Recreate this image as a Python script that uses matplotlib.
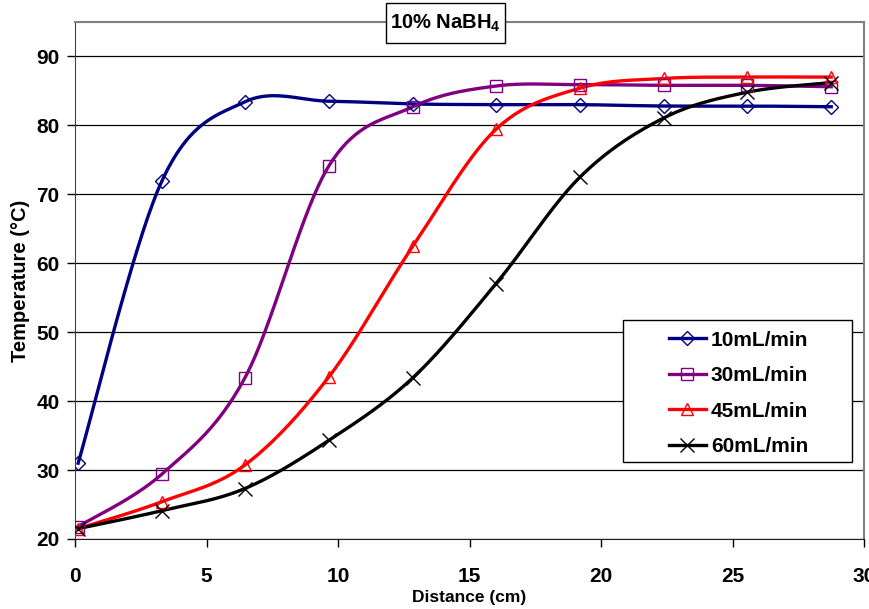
import matplotlib.pyplot as plt
import numpy as np
from matplotlib.patches import Rectangle

plt.switch_backend('Agg')
plt.rcParams['font.family'] = ['Liberation Sans', 'DejaVu Sans']
plt.rcParams['font.weight'] = 'bold'
plt.rcParams['mathtext.fontset'] = 'custom'
plt.rcParams['mathtext.rm'] = 'Liberation Sans:bold'
plt.rcParams['mathtext.it'] = 'Liberation Sans:bold'
plt.rcParams['mathtext.bf'] = 'Liberation Sans:bold'

# distance along the reactor (cm)
distance = [0.12, 3.3, 6.45, 9.65, 12.85, 16.0, 19.2, 22.4, 25.55, 28.75]

# temperature readings (deg C) for each flow rate
temp_10 = [31.0, 71.9, 83.4, 83.5, 83.1, 83.0, 83.0, 82.8, 82.8, 82.7]
temp_30 = [21.8, 29.4, 43.3, 74.1, 82.7, 85.7, 85.9, 85.8, 85.8, 85.6]
temp_45 = [21.5, 25.4, 30.7, 43.5, 62.5, 79.4, 85.4, 86.8, 87.0, 87.0]
temp_60 = [21.5, 24.1, 27.3, 34.3, 43.4, 57.0, 72.5, 81.1, 84.8, 86.2]

labels = ['10mL/min', '30mL/min', '45mL/min', '60mL/min']


def excel_smooth(x, y, n=40):
    # bezier smoothing like excel's "smoothed line"
    x = np.asarray(x, float)
    y = np.asarray(y, float)
    px = np.concatenate([[x[0]], x, [x[-1]]])
    py = np.concatenate([[y[0]], y, [y[-1]]])
    xs, ys = [], []
    t = np.linspace(0, 1, n)
    for i in range(1, len(px) - 2):
        p0 = np.array([px[i], py[i]])
        p3 = np.array([px[i + 1], py[i + 1]])
        p1 = p0 + (np.array([px[i + 1], py[i + 1]]) - np.array([px[i - 1], py[i - 1]])) / 6
        p2 = p3 - (np.array([px[i + 2], py[i + 2]]) - np.array([px[i], py[i]])) / 6
        b = ((1 - t) ** 3)[:, None] * p0 + (3 * (1 - t) ** 2 * t)[:, None] * p1 \
            + (3 * (1 - t) * t ** 2)[:, None] * p2 + (t ** 3)[:, None] * p3
        xs.append(b[:, 0])
        ys.append(b[:, 1])
    return np.concatenate(xs), np.concatenate(ys)


fig = plt.figure(figsize=(8.7, 6.09), dpi=100)
ax = fig.add_axes([0.0862, 0.115, 0.907, 0.849])

series = [
    (temp_10, '#000080', 'D', 7),
    (temp_30, '#800080', 's', 9),
    (temp_45, '#ff0000', '^', 9),
    (temp_60, '#000000', 'x', 10),
]

for (temps, color, marker, ms), label in zip(series, labels):
    sx, sy = excel_smooth(distance, temps)
    ax.plot(sx, sy, color=color, lw=2.4, zorder=3)
    ax.plot(distance, temps, ls='none', marker=marker, ms=ms, mfc='none',
            mec=color, mew=1.0, zorder=4)
    ax.plot([], [], color=color, lw=2.4, marker=marker, ms=ms, mfc='none',
            mec=color, mew=1.0, label=label)

ax.set_xlim(0, 30)
ax.set_ylim(20, 95)
ax.set_xticks(np.arange(0, 31, 5))
ax.set_yticks(np.arange(20, 91, 10))
ax.yaxis.grid(True, color='black', lw=0.9)
ax.set_axisbelow(True)
ax.tick_params(axis='both', labelsize=15, length=6, width=1, direction='out')
ax.tick_params(axis='x', pad=14)
ax.tick_params(axis='y', pad=5)
for lab in ax.get_xticklabels() + ax.get_yticklabels():
    lab.set_fontweight('bold')

for side in ['top', 'right']:
    ax.spines[side].set_color('#808080')
    ax.spines[side].set_linewidth(1.5)
ax.spines['left'].set_color('#404040')
ax.spines['bottom'].set_color('#202020')

ax.set_xlabel('Distance (cm)', fontsize=12.5, fontweight='bold', labelpad=3)
ax.set_ylabel('Temperature (\u00b0C)', fontsize=14.5, fontweight='bold', labelpad=5)

# legend box drawn separately, excel-style wide padding
ax.add_patch(Rectangle((0.6945, 0.149), 0.2903, 0.2746, transform=ax.transAxes,
                       fc='white', ec='black', lw=1.0, zorder=5))
leg = ax.legend(loc='upper left', bbox_to_anchor=(0.753, 0.403), fontsize=15,
                frameon=False, handlelength=1.75, borderpad=0, borderaxespad=0,
                labelspacing=0.79, handletextpad=0.25)
leg.set_zorder(6)
for t in leg.get_texts():
    t.set_fontweight('bold')

# title box straddling the top of the plot area
fig.patches.append(Rectangle((0.4437, 0.9294), 0.1368, 0.0656, transform=fig.transFigure,
                             fc='white', ec='black', lw=1.0, zorder=5))
fig.text(0.5115, 0.962, '10% NaBH$_4$', ha='center', va='center', fontsize=14.5,
         fontweight='bold', zorder=6)

fig.savefig('out.png', dpi=100)
